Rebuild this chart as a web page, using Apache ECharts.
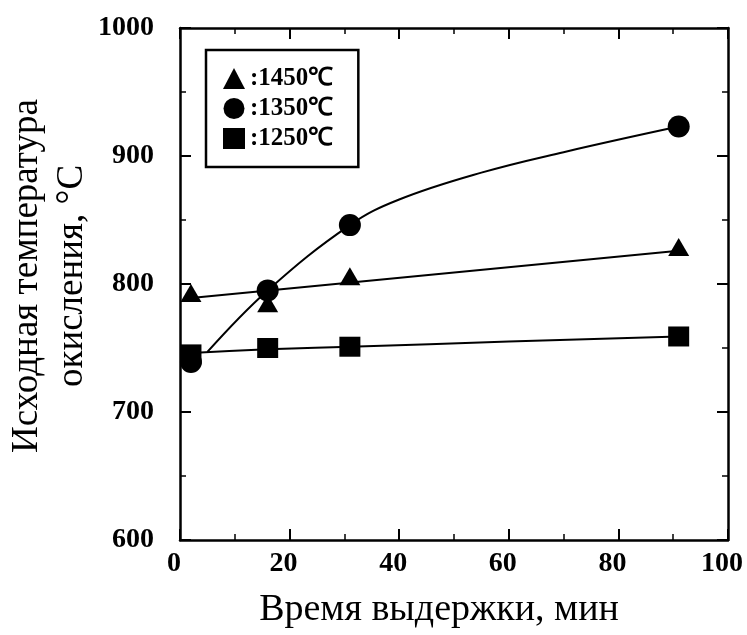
<!DOCTYPE html>
<html>
<head>
<meta charset="utf-8">
<script src="https://cdn.jsdelivr.net/npm/echarts@6/dist/echarts.min.js"></script>
<style>
  html, body { margin: 0; padding: 0; background: #fff; }
  #chart { width: 747px; height: 635px; }
</style>
</head>
<body>
<div id="chart"></div>
<script>
// measured points (holding time, min -> start oxidation temperature, C)
var times = [2, 16, 31, 91];
var t1450 = [793, 785, 806, 829];
var t1350 = [739, 795, 846, 923];
var t1250 = [745, 750, 751, 759];

// fitted curves as drawn on the figure
var fit1450X = [2, 91];
var fit1450Y = [789, 826];
var fit1350X = [5, 16, 31, 40, 55, 70, 91];
var fit1350Y = [747, 795, 846, 866, 887, 903, 923];
var fit1250X = [2, 16, 31, 60, 91];
var fit1250Y = [746, 749, 751, 755, 759];

var names = ["1450℃", "1350℃", "1250℃"];
var yTitle = "Исходная температура\nокисления, °C";

function pairs(xs, ys) {
  return xs.map(function (x, i) { return [x, ys[i]]; });
}

var tickFont = {
  color: "#000",
  fontFamily: "Liberation Serif",
  fontWeight: "bold",
  fontSize: 28
};

var axisCommon = {
  type: "value",
  axisLine: { show: true, onZero: false, lineStyle: { color: "#000", width: 2.5 } },
  axisTick: { show: true, inside: true, length: 11, lineStyle: { color: "#000", width: 2 } },
  minorTick: { show: true, splitNumber: 2, length: 6, lineStyle: { color: "#000", width: 1.5 } },
  splitLine: { show: false }
};

var myChart = echarts.init(document.getElementById("chart"));

myChart.setOption({
  backgroundColor: "#fff",
  animation: false,
  grid: { left: 180, right: 19, top: 28, bottom: 95, outerBoundsMode: "none" },
  legend: {
    data: names,
    orient: "vertical",
    left: 206,
    top: 50,
    padding: [16, 25, 16, 17],
    itemGap: 5,
    itemWidth: 22,
    itemHeight: 21,
    borderColor: "#000",
    borderWidth: 2.5,
    formatter: ":{name}",
    textStyle: { color: "#000", fontFamily: "Liberation Serif", fontWeight: "bold", fontSize: 25 }
  },
  // y axis title, two lines rotated
  graphic: [
    {
      type: "text",
      x: 50,
      y: 276,
      rotation: Math.PI / 2,
      style: {
        text: yTitle,
        fill: "#000",
        font: "37px 'Liberation Serif'",
        lineHeight: 45,
        align: "center",
        verticalAlign: "middle"
      }
    }
  ],
  xAxis: [
    Object.assign({}, axisCommon, {
      min: 0, max: 100, interval: 20, position: "bottom",
      axisLabel: Object.assign({ margin: 10, padding: [0, 12, 0, 0] }, tickFont),
      name: "Время выдержки, мин",
      nameLocation: "middle",
      nameGap: 51,
      nameTextStyle: { color: "#000", fontFamily: "Liberation Serif", fontSize: 38, padding: [0, 30, 0, 0] }
    }),
    Object.assign({}, axisCommon, {
      min: 0, max: 100, interval: 20, position: "top",
      axisLabel: { show: false }
    })
  ],
  yAxis: [
    Object.assign({}, axisCommon, {
      min: 600, max: 1000, interval: 100, position: "left",
      axisLabel: Object.assign({ margin: 26, formatter: function (v) { return String(v); } }, tickFont)
    }),
    Object.assign({}, axisCommon, {
      min: 600, max: 1000, interval: 100, position: "right",
      axisLabel: { show: false }
    })
  ],
  series: [
    { type: "line", data: pairs(fit1450X, fit1450Y), showSymbol: false, smooth: true,
      lineStyle: { color: "#000", width: 2 }, silent: true, z: 2 },
    { type: "line", data: pairs(fit1350X, fit1350Y), showSymbol: false, smooth: 0.4,
      lineStyle: { color: "#000", width: 2 }, silent: true, z: 2 },
    { type: "line", data: pairs(fit1250X, fit1250Y), showSymbol: false, smooth: true,
      lineStyle: { color: "#000", width: 2 }, silent: true, z: 2 },
    { name: names[0], type: "scatter", data: pairs(times, t1450), symbol: "triangle",
      symbolSize: [21, 18], itemStyle: { color: "#000", opacity: 1 }, z: 3 },
    { name: names[1], type: "scatter", data: pairs(times, t1350), symbol: "circle",
      symbolSize: 22, itemStyle: { color: "#000", opacity: 1 }, z: 3 },
    { name: names[2], type: "scatter", data: pairs(times, t1250), symbol: "rect",
      symbolSize: [21, 20], itemStyle: { color: "#000", opacity: 1 }, z: 3 }
  ]
});
</script>
</body>
</html>
